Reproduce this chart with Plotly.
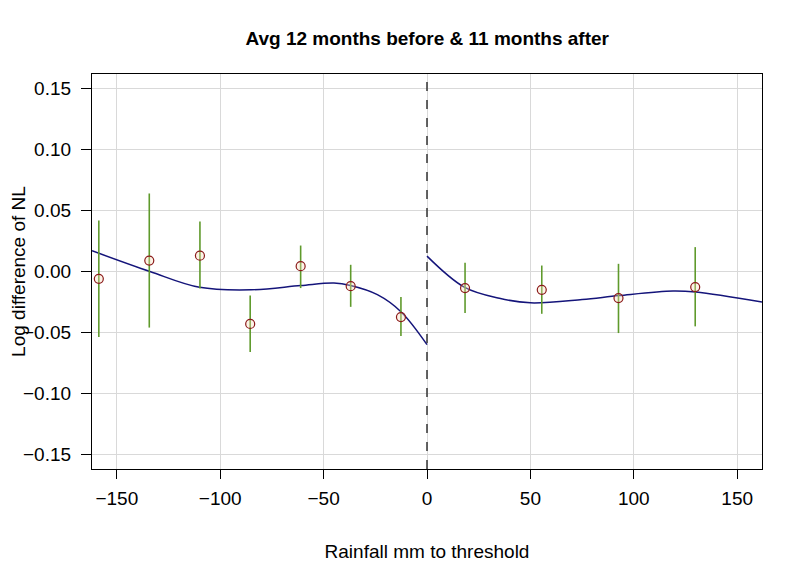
import plotly.graph_objects as go

# binned means with confidence intervals
bin_x = [-158.7, -134.3, -109.8, -85.5, -61.1, -36.9, -12.6, 18.4, 55.5, 92.6, 129.7]
bin_y = [-0.006, 0.009, 0.013, -0.043, 0.0044, -0.012, -0.0374, -0.0136, -0.015, -0.0218, -0.0128]
ci_hi = [0.0418, 0.064, 0.041, -0.0197, 0.0213, 0.0055, -0.021, 0.0071, 0.0049, 0.0063, 0.020]
ci_lo = [-0.0538, -0.046, -0.014, -0.066, -0.0136, -0.029, -0.053, -0.034, -0.0347, -0.0505, -0.045]

# fitted polynomial
fit_left_x = [-162, -134, -110, -85, -61, -45, -37, -24, -12.6, 0]
fit_left_y = [0.017, 0.0, -0.013, -0.015, -0.0115, -0.0095, -0.0115, -0.019, -0.033, -0.060]
fit_right_x = [0, 18, 35, 50, 75, 93, 119, 130, 162]
fit_right_y = [0.0126, -0.0128, -0.022, -0.0257, -0.023, -0.0197, -0.016, -0.0169, -0.0251]

x_ticks = [-150, -100, -50, 0, 50, 100, 150]
y_ticks = [-0.15, -0.10, -0.05, 0.00, 0.05, 0.10, 0.15]

FONT = "Liberation Sans, Arial, sans-serif"

fig = go.Figure()

for fx, fy in [(fit_left_x, fit_left_y), (fit_right_x, fit_right_y)]:
    fig.add_trace(go.Scatter(
        x=fx, y=fy, mode="lines",
        line=dict(color="#14147a", width=1.5, shape="spline", smoothing=1.0),
        showlegend=False, hoverinfo="skip",
    ))

fig.add_trace(go.Scatter(
    x=bin_x, y=bin_y, mode="markers",
    marker=dict(size=0.1, color="rgba(0,0,0,0)"),
    error_y=dict(
        type="data", symmetric=False,
        array=[h - y for h, y in zip(ci_hi, bin_y)],
        arrayminus=[y - l for l, y in zip(ci_lo, bin_y)],
        color="#5f9a2c", thickness=1.6, width=0,
    ),
    showlegend=False, hoverinfo="skip",
))

fig.add_trace(go.Scatter(
    x=bin_x, y=bin_y, mode="markers",
    marker=dict(size=9, color="rgba(250,222,185,0.35)",
                line=dict(color="#8b1a1a", width=1.2)),
    showlegend=False,
))

fig.add_shape(type="line", x0=0, x1=0, y0=0, y1=1, xref="x", yref="paper",
              line=dict(color="#333333", width=1.5, dash="dash"))

# the page body adds an 8px offset, margins are shifted to make up for it
fig.update_layout(
    width=800, height=571,
    margin=dict(l=84, r=46, t=66, b=110),
    paper_bgcolor="white", plot_bgcolor="white",
    font=dict(family=FONT, size=19, color="black"),
    title=dict(text="<b>Avg 12 months before & 11 months after</b>",
               x=0.524, xanchor="center", y=0.947, yanchor="middle",
               font=dict(size=19)),
    xaxis=dict(
        range=[-162, 162], tickvals=x_ticks, ticks="outside", ticklen=9,
        tickcolor="black", showgrid=True, gridcolor="#d9d9d9", gridwidth=1,
        zeroline=False, showline=True, linecolor="black", linewidth=1.2,
        mirror=True, automargin=False, ticklabelstandoff=3,
        title=dict(text="Rainfall mm to threshold", standoff=36,
                   font=dict(size=19)),
    ),
    yaxis=dict(
        range=[-0.162, 0.162], tickvals=y_ticks, tickformat=".2f",
        ticks="outside", ticklen=10, tickcolor="black",
        showgrid=True, gridcolor="#d9d9d9", gridwidth=1,
        zeroline=False, showline=True, linecolor="black", linewidth=1.2,
        mirror=True, automargin=False, ticklabelstandoff=6,
        title=dict(text="Log difference of NL", standoff=4,
                   font=dict(size=19)),
    ),
)

fig.write_html("out.html")
